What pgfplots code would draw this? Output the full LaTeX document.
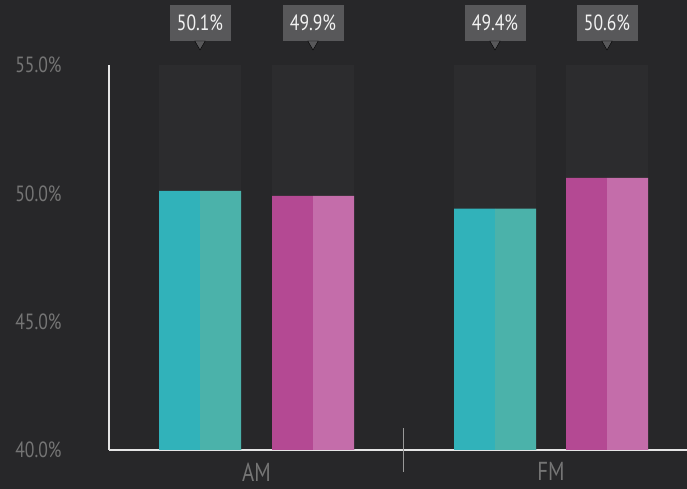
\documentclass[border=0pt]{standalone}
\usepackage{pgfplots}
\pgfplotsset{compat=1.18}
\usepackage{fontspec}
\setmainfont{PT Sans}[FakeStretch=0.8]
\definecolor{bgc}{HTML}{272729}
\definecolor{barbg}{HTML}{2C2C2E}
\definecolor{boxc}{HTML}{58585A}
\definecolor{tickc}{HTML}{757575}
\definecolor{tealL}{HTML}{31B2BA}
\definecolor{tealR}{HTML}{4BB2AA}
\definecolor{magL}{HTML}{B44993}
\definecolor{magR}{HTML}{C46DAA}
\begin{document}
\begin{tikzpicture}[x=1pt,y=1pt]
\fill[bgc] (0,0) rectangle (687,489);
\begin{axis}[
  at={(109pt,39pt)}, anchor=south west,
  scale only axis, width=578pt, height=385pt,
  xmin=109, xmax=687, ymin=40, ymax=55,
  enlargelimits=false, clip=false,
  axis x line=bottom, axis y line=left,
  axis line style={-, draw=white!90!black, line width=1.2pt},
  ytick={40,45,50,55},
  yticklabels={40.0\%,45.0\%,50.0\%,55.0\%},
  yticklabel style={font=\fontsize{22}{24}\selectfont, text=tickc, xshift=-44pt},
  xtick={256.5,551},
  xticklabels={AM,FM},
  xticklabel style={font=\fontsize{26}{28}\selectfont, text=tickc, yshift=-9pt},
  major tick length=0pt,
  extra x ticks={403},
  extra x tick labels={},
  extra x tick style={major tick length=43pt, tick align=center, tick style={draw=white!60!black, line width=0.8pt}},
  ybar, bar width=41,
]
% background bars with value boxes
\addplot[ybar, bar width=82, bar shift=0pt, fill=barbg, draw=none,
  point meta=explicit,
  nodes near coords={\pgfmathprintnumber[fixed,precision=1,fixed zerofill,assume math mode=true]{\pgfplotspointmeta}\%},
  every node near coord/.append style={fill=boxc, text=white!95!black,
    font=\fontsize{22}{24}\selectfont, minimum width=61pt, minimum height=36pt, inner sep=0pt,
    anchor=south, yshift=24pt}]
  coordinates {(200,55) [50.1] (313,55) [49.9] (495,55) [49.4] (607,55) [50.6]};
% pointers of the value boxes
\addplot[only marks, mark=triangle*, mark size=6pt,
  mark options={yshift=21pt, rotate=180, fill=boxc, draw=none}]
  coordinates {(200,55) (313,55) (495,55) (607,55)};
% teal halves
\addplot[ybar, bar width=41, bar shift=0pt, draw=none, fill=tealL]
  coordinates {(179.5,50.1) (474.5,49.4)};
\addplot[ybar, bar width=41, bar shift=0pt, draw=none, fill=tealR]
  coordinates {(220.5,50.1) (515.5,49.4)};
% magenta halves
\addplot[ybar, bar width=41, bar shift=0pt, draw=none, fill=magL]
  coordinates {(292.5,49.9) (586.5,50.6)};
\addplot[ybar, bar width=41, bar shift=0pt, draw=none, fill=magR]
  coordinates {(333.5,49.9) (627.5,50.6)};
\end{axis}
\pgfresetboundingbox
\path (0,0) rectangle (687,489);
\end{tikzpicture}
\end{document}
